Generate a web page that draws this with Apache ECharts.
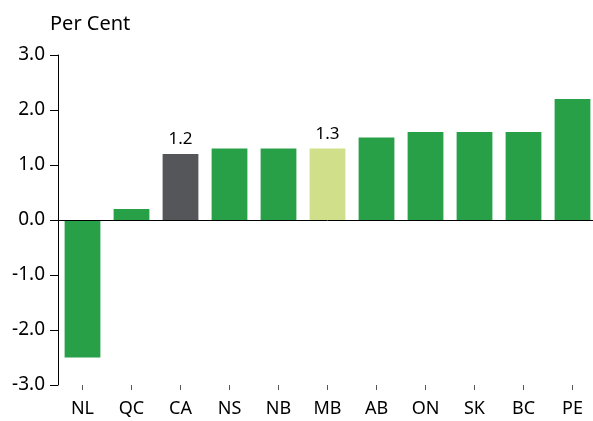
<!DOCTYPE html>
<html>
<head>
<meta charset="utf-8">
<script src="https://cdn.jsdelivr.net/npm/echarts@6/dist/echarts.min.js"></script>
<style>
  html, body { margin: 0; padding: 0; background: #fff; overflow: hidden; }
  #chart { width: 597px; height: 421px; }
</style>
</head>
<body>
<div id="chart"></div>
<script>
const provinces = ['NL', 'QC', 'CA', 'NS', 'NB', 'MB', 'AB', 'ON', 'SK', 'BC', 'PE']
const growth = [-2.5, 0.2, 1.2, 1.3, 1.3, 1.3, 1.5, 1.6, 1.6, 1.6, 2.2]
// CA is the national total, MB is the highlighted province
const highlight = { CA: '#55565a', MB: '#d0e08a' }
const labelled = ['CA', 'MB']
const yTicks = [-3, 3, 1]

const font = '"Noto Sans", "Open Sans", sans-serif'
const green = '#27a048'

// the plot runs a few px past the right edge of the window, so the div is wider
const chart = echarts.init(document.getElementById('chart'), null, { renderer: 'canvas' })

const barData = growth.map((v, i) => {
  const p = provinces[i]
  return {
    value: v,
    itemStyle: { color: highlight[p] || green },
    label: { show: labelled.includes(p) }
  }
})

chart.setOption({
  animation: false,
  graphic: [
    {
      type: 'text',
      left: 50,
      top: 14,
      style: { text: 'Per Cent', font: '20px ' + font, fill: '#000' }
    }
  ],
  grid: { left: 58, top: 55, bottom: 36, right: 0, containLabel: false },
  xAxis: {
    type: 'category',
    data: provinces,
    axisLine: { show: false, onZero: false },
    axisTick: { show: true, alignWithLabel: true, length: 5, lineStyle: { color: '#555' } },
    axisLabel: { color: '#000', fontFamily: font, fontSize: 18, margin: 15 }
  },
  yAxis: {
    type: 'value',
    min: yTicks[0],
    max: yTicks[1],
    interval: yTicks[2],
    axisLine: { show: true, lineStyle: { color: '#000', width: 1 } },
    axisTick: { show: true, inside: false, length: 8, lineStyle: { color: '#000' } },
    axisLabel: {
      color: '#000', fontFamily: font, fontSize: 19, margin: 13,
      formatter: v => v.toFixed(1)
    },
    splitLine: { show: false }
  },
  series: [{
    type: 'bar',
    data: barData,
    barCategoryGap: '27%',
    label: {
      position: 'top',
      distance: 6,
      color: '#000',
      fontFamily: font,
      fontSize: 17,
      formatter: p => p.value.toFixed(1)
    },
    markLine: {
      silent: true,
      symbol: 'none',
      label: { show: false },
      lineStyle: { color: '#000', width: 1, type: 'solid' },
      data: [{ yAxis: 0 }]
    }
  }]
})
</script>
</body>
</html>
